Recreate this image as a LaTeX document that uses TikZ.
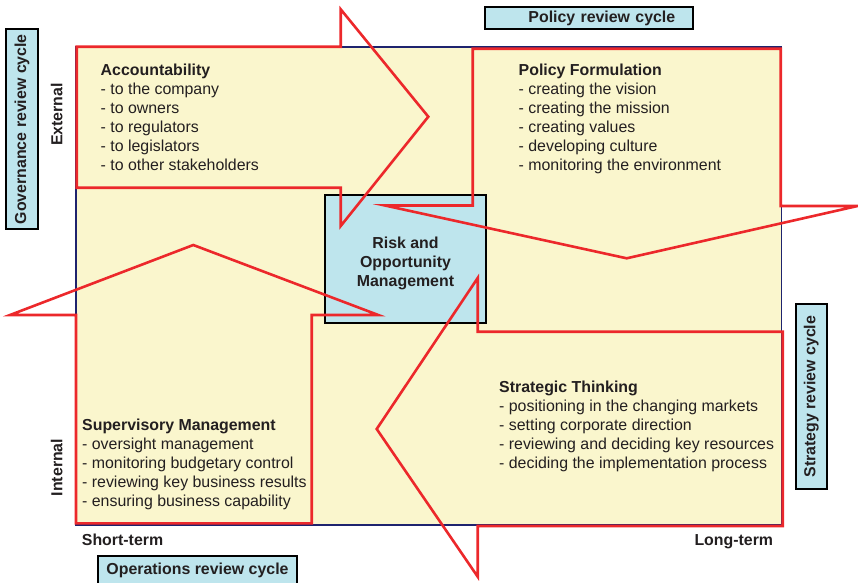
\documentclass[tikz,border=0pt]{standalone}
\usepackage{fontspec}
\setmainfont{Liberation Sans}
\definecolor{quadyellow}{RGB}{250,246,205}
\definecolor{cycleblue}{RGB}{190,229,237}
\definecolor{arrowred}{RGB}{236,40,43}
\definecolor{framenavy}{RGB}{30,35,110}
\definecolor{textgrey}{RGB}{35,31,32}
\usetikzlibrary{positioning}
\tikzset{
every node/.style={text=textgrey, inner sep=0pt, font=\fontsize{15.9}{19}\selectfont}, % same font for all texts
frame/.style={draw=framenavy, line width=1.5pt, fill=quadyellow}, % the big square of the four quadrants
riskbox/.style={draw=black, line width=2.2pt, fill=cycleblue, minimum width=160.7pt, minimum height=127.7pt},
cyclebox/.style={draw=black, line width=2pt, fill=cycleblue, font=\fontsize{15.9}{19}\selectfont\bfseries},
quadarrow/.style={draw=arrowred, line width=2.6pt, line join=miter}, % red outline of each arrow
itemlist/.style={align=left, anchor=base west}, % placed at the baseline of the last line
axislabel/.style={font=\fontsize{15.9}{19}\selectfont\bfseries},
}

\begin{document}
\begin{tikzpicture}[x=1pt, y=-1pt]
      \useasboundingbox (0,0) rectangle (858,582);

      \draw[frame] (76,47) rectangle (781.7,525);
      \node[riskbox] (risk) at (405.4,258.9) {};

      % the four arrows
      \draw[quadarrow] (76.7,46.7) -- (340.7,46.7) -- (340.7,9.3) -- (428.3,116.7)
        -- (340.7,226) -- (340.7,187.7) -- (76.7,187.7) -- cycle;
      \draw[quadarrow] (472.7,48.7) -- (780.7,48.7) -- (780.7,206) -- (857.5,206)
        -- (626.7,258.3) -- (385,205.5) -- (472.7,205.5) -- cycle;
      \draw[quadarrow] (76,523.3) -- (311.7,523.3) -- (311.7,315) -- (378.3,315)
        -- (193.3,245) -- (10,315) -- (76,315) -- cycle;
      \draw[quadarrow] (477.7,331.7) -- (782.7,331.7) -- (782.7,526) -- (477.7,526)
        -- (477.7,576.7) -- (376.7,429) -- (477.7,278) -- cycle;

      \node[align=center, anchor=base, font=\fontsize{15.9}{19}\selectfont\bfseries] (risklabel) at (405.5,286)
        {Risk and\\Opportunity\\Management};

      \node[itemlist] (accountability) at (100.5,170.5) {\textbf{Accountability}\\- to the company\\- to owners\\- to regulators\\- to legislators\\- to other stakeholders};
      \node[itemlist] (policyform) at (518.5,170.5) {\textbf{Policy Formulation}\\- creating the vision\\- creating the mission\\- creating values\\- developing culture\\- monitoring the environment};
      \node[itemlist] (supervisory) at (82,506.5) {\textbf{Supervisory Management}\\- oversight management\\- monitoring budgetary control\\- reviewing key business results\\- ensuring business capability};
      \node[itemlist] (strategic) at (499,468.7) {\textbf{Strategic Thinking}\\- positioning in the changing markets\\- setting corporate direction\\- reviewing and deciding key resources\\- deciding the implementation process};

      \node[axislabel, rotate=90] (external) at (56.7,114.5) {External};
      \node[axislabel, rotate=90] (internal) at (56.7,467.5) {Internal};
      \node[axislabel, anchor=base west] (shortterm) at (81.7,545) {Short-term};
      \node[axislabel, anchor=base east] (longterm) at (773.3,545) {Long-term};

      \node[cyclebox, rotate=90, minimum width=200.3pt, minimum height=31.7pt] (governance) at (21.9,129.2) {Governance review cycle};
      \node[cyclebox, minimum width=208.3pt, minimum height=22.6pt, text width=172pt, align=right] (policycycle) at (589.2,18) {Policy review cycle};
      \node[cyclebox, rotate=90, minimum width=185.3pt, minimum height=31pt] (strategy) at (811.2,396.7) {Strategy review cycle};
      \node[cyclebox, minimum width=198.4pt, minimum height=29pt] (operations) at (197.5,570.5) {Operations review cycle};
    \end{tikzpicture}
\end{document}
